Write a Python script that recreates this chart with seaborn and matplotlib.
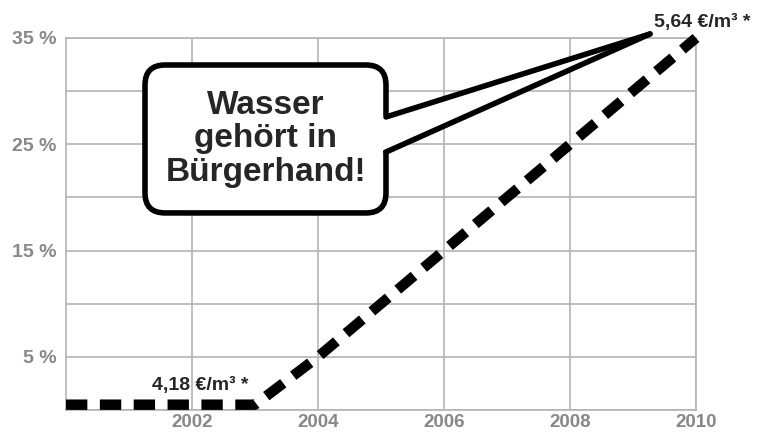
import numpy as np
import pandas as pd
from matplotlib import pyplot as plt
from matplotlib.patches import FancyBboxPatch, Polygon
import seaborn as sns

years = [2000, 2001, 2002, 2003, 2004, 2005, 2006, 2007, 2008, 2009, 2010]
increase = [0.5, 0.5, 0.5, 0.5, 5, 10, 15, 20, 25, 30, 35]
x_ticks = [2002, 2004, 2006, 2008, 2010]
y_ticks = [5, 15, 25, 35]
y_labels = ["5 %", "15 %", "25 %", "35 %"]
start_label = "4,18 €/m³ *"
end_label = "5,64 €/m³ *"
bubble_text = "Wasser\ngehört in\nBürgerhand!"

df = pd.DataFrame({"Jahr": years, "Anstieg": increase})

sns.set_style("white")
plt.rcParams["font.family"] = ["Liberation Sans", "DejaVu Sans"]

fig = plt.figure(figsize=(7.62, 4.33), dpi=100)
ax = fig.add_axes([66 / 762, 1 - 410 / 433, 630 / 762, 372 / 433])

sns.lineplot(x="Jahr", y="Anstieg", data=df, color="black", linewidth=7.5, ax=ax)
line = ax.lines[0]
line.set_linestyle((0, (2.05, 1.2)))
line.set_dash_capstyle("butt")
line.set_clip_on(False)
line.set_zorder(3)

ax.set_xlim(2000, 2010)
ax.set_ylim(0, 35)
ax.set_xticks(x_ticks)
ax.set_yticks(y_ticks)
ax.set_yticklabels(y_labels)
ax.set_yticks([0, 10, 20, 30], minor=True)
ax.grid(True, which="both", color="#b4b4b4", linewidth=1.2)
ax.set_axisbelow(True)
for s in ax.spines.values():
    s.set_color("#b4b4b4")
    s.set_linewidth(1.2)
ax.tick_params(axis="both", which="both", length=0, labelcolor="#888888", labelsize=14)
ax.tick_params(axis="x", pad=3, labelsize=13.5)
ax.tick_params(axis="y", pad=7)
for lab in ax.get_xticklabels() + ax.get_yticklabels():
    lab.set_fontweight("bold")
ax.set_xlabel("")
ax.set_ylabel("")

# price labels
ax.text(2001.37, 2.35, start_label, fontsize=14, fontweight="bold", va="center", ha="left", zorder=4)
ax.text(2009.33, 36.5, end_label, fontsize=14, fontweight="bold", va="center", ha="left", clip_on=False)

# speech bubble
px_x = 630 / 10
px_y = 372 / 35
r = 20 / px_x
box = FancyBboxPatch((2001.254, 18.54), 2005.079 - 2001.254, 32.46 - 18.54,
                     boxstyle=f"round,pad=0,rounding_size={r}",
                     mutation_aspect=px_x / px_y,
                     facecolor="white", edgecolor="black", linewidth=4, zorder=5)
ax.add_patch(box)
tip = (2009.27, 35.38)
up = (2005.079, 27.57)
lo = (2005.079, 24.27)
tail = Polygon([(up[0] - 0.1, up[1]), tip, (lo[0] - 0.1, lo[1])], closed=True,
               facecolor="white", edgecolor="none", zorder=6, clip_on=False)
ax.add_patch(tail)
ax.plot([up[0], tip[0]], [up[1], tip[1]], color="black", linewidth=4, zorder=7, clip_on=False,
        solid_capstyle="round")
ax.plot([lo[0], tip[0]], [lo[1], tip[1]], color="black", linewidth=4, zorder=7, clip_on=False,
        solid_capstyle="round")
ax.text(2003.17, 25.5, bubble_text, fontsize=24, fontweight="bold", ha="center", va="center",
        linespacing=1.1, zorder=8)

fig.savefig("out.png", dpi=100)
